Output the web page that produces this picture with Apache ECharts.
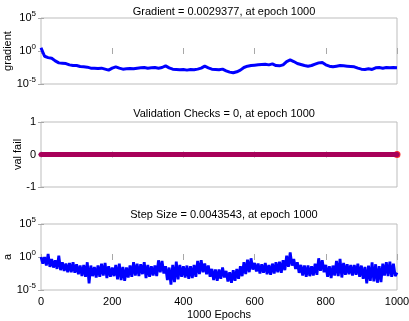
<!DOCTYPE html>
<html>
<head>
<meta charset="utf-8">
<script src="https://cdn.jsdelivr.net/npm/echarts@6/dist/echarts.min.js"></script>
<style>
  html, body { margin: 0; padding: 0; background: #fff; }
  #chart { width: 409px; height: 321px; }
</style>
</head>
<body>
<div id="chart"></div>
<script>
// 数据 (log10 values)
var titles = [
  'Gradient = 0.0029377, at epoch 1000',
  'Validation Checks = 0, at epoch 1000',
  'Step Size = 0.0043543, at epoch 1000'
];
var yNames = ['gradient', 'val fail', 'a'];
var xTicks = [0, 200, 400, 600, 800, 1000];

// gradient, every 10 epochs
var gradStep = 10;
var gradLog = [
  0.5, -0.8, -1.0, -1.1, -1.5, -1.8, -1.85, -1.9, -2.1, -2.2,
  -2.2, -2.35, -2.4, -2.45, -2.6, -2.6, -2.65, -2.6, -2.75, -2.9,
  -2.6, -2.4, -2.6, -2.75, -2.7, -2.65, -2.7, -2.6, -2.55, -2.5,
  -2.6, -2.55, -2.5, -2.6, -2.5, -2.25, -2.55, -2.75, -2.8, -2.85,
  -2.8, -2.9, -2.8, -2.85, -2.75, -2.6, -2.3, -2.55, -2.75, -2.8,
  -2.85, -2.75, -3.0, -3.2, -3.3, -3.15, -2.9, -2.5, -2.3, -2.2,
  -2.15, -2.1, -2.05, -2.0, -2.1, -1.95, -2.2, -2.25, -2.1, -1.6,
  -1.35, -1.6, -1.9, -2.05, -2.2, -2.3, -2.2, -2.0, -1.8, -1.75,
  -2.1, -2.3, -2.4, -2.3, -2.2, -2.25, -2.3, -2.35, -2.4, -2.6,
  -2.75, -2.8, -2.7, -2.8, -2.55, -2.5, -2.6, -2.5, -2.55, -2.5,
  -2.53
];

// validation checks, every 10 epochs
var valStep = 10;
var valFail = [
  0,0,0,0,0,0,0,0,0,0, 0,0,0,0,0,0,0,0,0,0,
  0,0,0,0,0,0,0,0,0,0, 0,0,0,0,0,0,0,0,0,0,
  0,0,0,0,0,0,0,0,0,0, 0,0,0,0,0,0,0,0,0,0,
  0,0,0,0,0,0,0,0,0,0, 0,0,0,0,0,0,0,0,0,0,
  0,0,0,0,0,0,0,0,0,0, 0,0,0,0,0,0,0,0,0,0,
  0
];
var valLast = [1000, 0];

// step size, every 5 epochs (high/low pairs of the noisy band)
var stepStep = 5;
var stepLog = [
  0.0, -1.0,  0.0, -1.3,  0.45, -1.5, -0.3, -1.6, -0.5, -1.8,
  0.2, -2.0, -0.8, -2.1, -1.0, -2.3, -0.9, -2.3, -0.8, -2.4,
  -1.1, -2.6, -1.3, -2.9, -1.2, -3.0, -0.8, -4.0, -1.3, -2.9,
  -1.5, -3.1, -1.3, -3.0, -1.0, -2.8, -0.9, -3.2, -1.4, -3.0,
  -1.6, -2.9, -1.2, -3.4, -1.0, -3.5, -1.5, -3.6, -1.6, -3.1,
  -1.3, -3.0, -0.8, -2.8, -1.0, -2.9, -1.1, -2.6, -0.8, -3.2,
  -1.2, -3.0, -1.4, -2.8, -1.3, -2.9, -0.5, -2.3, -0.6, -2.5,
  -1.4, -3.5, -1.6, -4.2, -1.2, -3.8, -0.7, -3.4, -1.2, -3.0,
  -1.4, -3.1, -1.3, -3.3, -1.4, -3.2, -1.2, -3.0, -0.6, -2.6,
  -0.5, -2.3, -1.0, -2.6, -1.3, -3.0, -1.8, -3.5, -1.9, -3.6,
  -1.9, -3.3, -1.6, -3.1, -2.1, -3.7, -2.3, -3.9, -2.0, -3.6,
  -1.8, -3.3, -1.4, -2.9, -0.8, -2.6, -0.4, -2.3, -0.2, -1.9,
  -0.9, -2.2, -1.0, -2.5, -1.1, -2.4, -0.9, -2.6, -1.2, -2.7,
  -1.0, -2.5, -0.8, -2.3, -0.7, -2.4, -0.5, -2.0, 0.2, -1.5,
  0.7, -1.3, -0.3, -1.8, -0.8, -2.4, -1.2, -2.8, -1.3, -3.0,
  -1.3, -2.9, -1.4, -2.8, -1.0, -2.7, -0.2, -2.1, -0.5, -2.3,
  -1.2, -3.0, -1.4, -3.2, -1.3, -2.8, -0.6, -2.9, -0.3, -3.1,
  -0.9, -2.7, -1.1, -2.6, -1.2, -2.8, -1.2, -2.7, -1.0, -3.0,
  -1.3, -3.3, -1.5, -4.0, -1.3, -3.6, -0.8, -3.7, -1.1, -3.9,
  -1.4, -3.8, -1.0, -2.8, -0.8, -2.9, -0.7, -3.0, -1.0, -2.9,
  -2.36
];

function toPairs(arr, step) {
  return arr.map(function (v, i) { return [i * step, v]; });
}

var chart = echarts.init(document.getElementById('chart'));

var grids = [
  { left: 41, right: 12, top: 18, height: 66 },
  { left: 41, right: 12, top: 122, height: 65 },
  { left: 41, right: 12, top: 224, height: 66 }
];
grids.forEach(function (g) {
  g.show = true;
  g.borderColor = '#bdbdbd';
  g.borderWidth = 1;
  g.backgroundColor = '#fff';
  g.containLabel = false;
  g.outerBoundsMode = 'none';
});

var font = 'Liberation Sans, Arial, sans-serif';
var tick = { show: true, inside: true, length: 3, lineStyle: { color: '#a8a8a8' } };
var nameGaps = [28, 18, 28];

var xAxes = [];
var yAxes = [];
for (var i = 0; i < 3; i++) {
  xAxes.push({
    gridIndex: i, type: 'value', min: 0, max: 1000, interval: 200,
    position: 'bottom',
    axisLine: { show: false }, axisTick: tick, splitLine: { show: false },
    axisLabel: {
      show: i === 2, color: '#000', fontSize: 11, fontFamily: font, margin: 6,
      formatter: function (v) { return String(v); }
    },
    name: i === 2 ? '1000 Epochs' : '', nameLocation: 'middle', nameGap: 19,
    nameMoveOverlap: false,
    nameTextStyle: { color: '#000', fontSize: 11, fontFamily: font }
  });
  xAxes.push({
    gridIndex: i, type: 'value', min: 0, max: 1000, interval: 200,
    position: 'top',
    axisLine: { show: false }, axisTick: tick, splitLine: { show: false },
    axisLabel: { show: false }
  });
  var isVal = i === 1;
  yAxes.push({
    gridIndex: i, type: 'value',
    min: isVal ? -1 : -5, max: isVal ? 1 : 5, interval: isVal ? 1 : 5,
    position: 'left',
    axisLine: { show: false }, axisTick: tick, splitLine: { show: false },
    axisLabel: {
      color: '#000', fontSize: 11, fontFamily: font, margin: 5,
      formatter: isVal ? '{value}' : function (v) { return '10{s|' + v + '}'; },
      rich: { s: { fontSize: 8, fontFamily: font, color: '#000', padding: [0, 0, 9, 0] } }
    },
    name: yNames[i], nameLocation: 'middle', nameRotate: 90, nameGap: nameGaps[i],
    nameMoveOverlap: false,
    nameTextStyle: { color: '#000', fontSize: 11, fontFamily: font }
  });
  yAxes.push({
    gridIndex: i, type: 'value',
    min: isVal ? -1 : -5, max: isVal ? 1 : 5, interval: isVal ? 1 : 5,
    position: 'right',
    axisLine: { show: false }, axisTick: tick, splitLine: { show: false },
    axisLabel: { show: false }
  });
}

var option = {
  animation: false,
  backgroundColor: '#fff',
  title: titles.map(function (t, i) {
    return {
      text: t, left: 219, textAlign: 'center',
      top: [1, 103, 204][i],
      textStyle: { color: '#000', fontSize: 11, fontWeight: 'normal', fontFamily: font }
    };
  }),
  grid: grids,
  xAxis: xAxes,
  yAxis: yAxes,
  series: [
    {
      name: 'gradient', type: 'line', xAxisIndex: 0, yAxisIndex: 0,
      data: toPairs(gradLog, gradStep), showSymbol: false,
      lineStyle: { color: '#0000ff', width: 3 }
    },
    {
      name: 'val fail', type: 'line', xAxisIndex: 2, yAxisIndex: 2,
      data: toPairs(valFail, valStep), symbol: 'circle', symbolSize: 5, showSymbol: true,
      itemStyle: { color: '#a8005a' },
      lineStyle: { color: '#a8005a', width: 5 }
    },
    {
      name: 'val last', type: 'scatter', xAxisIndex: 2, yAxisIndex: 2,
      data: [valLast], symbol: 'circle', symbolSize: 7,
      itemStyle: { color: '#ff0000' }
    },
    {
      name: 'a', type: 'line', xAxisIndex: 4, yAxisIndex: 4,
      data: toPairs(stepLog, stepStep), showSymbol: false,
      lineStyle: { color: '#0000ff', width: 2.8 }
    }
  ]
};

chart.setOption(option);
</script>
</body>
</html>
